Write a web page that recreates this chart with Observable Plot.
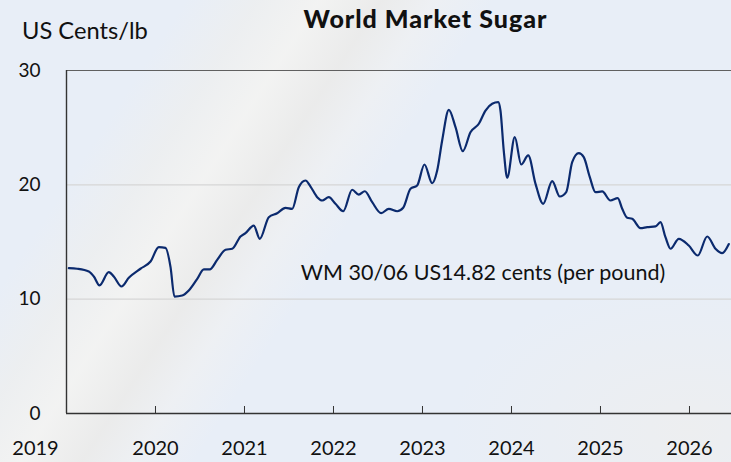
<!DOCTYPE html>
<html>
<head>
<meta charset="utf-8">
<script src="https://cdn.jsdelivr.net/npm/d3@7"></script>
<script src="https://cdn.jsdelivr.net/npm/@observablehq/plot@0.6"></script>
<style>
  html, body { margin: 0; padding: 0; }
  #wrap {
    position: relative; width: 731px; height: 462px; overflow: hidden;
    font-family: Lato, "Open Sans", sans-serif;
    background:
      linear-gradient(123deg, rgba(255,255,255,0) 0%, rgba(255,255,255,0) 18%, rgba(240,239,235,0.55) 25%, rgba(245,244,241,0.8) 31%, rgba(236,234,230,0.7) 37%, rgba(243,242,240,0.5) 42%, rgba(255,255,255,0) 48%),
      radial-gradient(ellipse 240px 150px at 690px 430px, rgba(238,238,238,0.8), rgba(238,238,238,0)),
      #e8eef7;
  }
  #title { position: absolute; left: 0; width: 851px; top: 6px; text-align: center; font-weight: 900; font-size: 25px; line-height: 1; letter-spacing: 1px; color: #111; }
  #ylab { position: absolute; left: 22px; top: 19px; font-size: 23.7px; line-height: 1; color: #111; }
  #chart { position: absolute; left: 0; top: 0; }
</style>
</head>
<body>
<div id="wrap">
  <div id="chart"></div>
  <div id="title">World Market Sugar</div>
  <div id="ylab">US Cents/lb</div>
</div>
<script>
// Decimal year positions of the traced points
const years = [
  2019.026, 2019.120, 2019.251, 2019.307, 2019.371, 2019.475, 2019.531, 2019.618, 2019.700, 2019.831,
  2019.944, 2020.037, 2020.112, 2020.169, 2020.213, 2020.300, 2020.374, 2020.469, 2020.543, 2020.610,
  2020.693, 2020.787, 2020.862, 2020.955, 2021.011, 2021.104, 2021.172, 2021.273, 2021.367, 2021.461,
  2021.536, 2021.610, 2021.685, 2021.742, 2021.817, 2021.873, 2021.947, 2022.022, 2022.109, 2022.210,
  2022.284, 2022.352, 2022.435, 2022.536, 2022.621, 2022.716, 2022.783, 2022.865, 2022.940, 2023.022,
  2023.109, 2023.165, 2023.221, 2023.296, 2023.371, 2023.453, 2023.539, 2023.633, 2023.708, 2023.783,
  2023.851, 2023.876, 2023.913, 2023.952, 2024.037, 2024.109, 2024.188, 2024.270, 2024.356, 2024.457,
  2024.543, 2024.615, 2024.682, 2024.756, 2024.812, 2024.880, 2024.944, 2025.019, 2025.112, 2025.194,
  2025.244, 2025.300, 2025.356, 2025.449, 2025.525, 2025.618, 2025.674, 2025.730, 2025.787, 2025.880,
  2025.992, 2026.093, 2026.199, 2026.292, 2026.367, 2026.442
];
// World market sugar price, US cents per pound
const prices = [
  12.71, 12.66, 12.42, 11.98, 11.20, 12.36, 11.98, 11.11, 11.87, 12.66,
  13.29, 14.55, 14.49, 12.80, 10.23, 10.32, 10.76, 11.78, 12.60, 12.60,
  13.44, 14.32, 14.41, 15.48, 15.77, 16.44, 15.28, 17.17, 17.52, 17.99,
  17.90, 19.79, 20.38, 19.85, 18.92, 18.63, 18.92, 18.34, 17.69, 19.57,
  19.15, 19.44, 18.48, 17.52, 17.90, 17.69, 17.99, 19.65, 19.94, 21.78,
  20.14, 21.25, 23.88, 26.56, 25.04, 22.94, 24.60, 25.34, 26.50, 27.09,
  27.23, 26.50, 23.00, 20.62, 24.17, 21.78, 22.57, 20.09, 18.34, 20.32,
  18.98, 19.36, 21.98, 22.77, 22.42, 20.67, 19.36, 19.42, 18.63, 18.83,
  17.90, 17.12, 17.03, 16.21, 16.30, 16.36, 16.73, 15.42, 14.41, 15.28,
  14.69, 13.82, 15.48, 14.41, 14.02, 14.82
];
const yearTicks = [2019, 2020, 2021, 2022, 2023, 2024, 2025, 2026];
const yTicks = [0, 10, 20, 30];
const gridValues = [10, 20];
const xDomain = [2019, 2026.472];
const yDomain = [0, 30];
const noteText = ["WM 30/06 US14.82 cents (per pound)"];
const noteX = [2023.68];
const noteY = [12.3];

const series = years.map((x, i) => ({x, y: prices[i]}));
const notes = noteText.map((t, i) => ({t, x: noteX[i], y: noteY[i]}));

const chart = Plot.plot({
  width: 731,
  height: 462,
  marginTop: 70,
  marginLeft: 66,
  marginRight: 0,
  marginBottom: 49,
  style: {background: "transparent", fontFamily: "Lato, 'Open Sans', sans-serif", color: "#111"},
  x: {domain: xDomain, axis: null},
  y: {domain: yDomain, axis: null},
  marks: [
    Plot.ruleY(gridValues, {stroke: "#d6d6d6", strokeWidth: 1.3}),
    Plot.ruleY([yDomain[1]], {stroke: "#606060", strokeWidth: 1.2}),
    Plot.ruleY([yDomain[0]], {stroke: "#333", strokeWidth: 1.4}),
    Plot.ruleX([xDomain[0]], {stroke: "#333", strokeWidth: 1.4}),
    Plot.ruleX(yearTicks.slice(1), {x: d => d, stroke: "#333", strokeWidth: 1, insetTop: 336}),
    Plot.axisY(yTicks, {tickSize: 0, tickPadding: 26, fontSize: 19, fill: "#111", label: null}),
    Plot.text(yearTicks.slice(0, 1), {x: d => d, frameAnchor: "bottom", dy: 41, dx: -31, text: d => String(d), fontSize: 20, fill: "#111"}),
    Plot.text(yearTicks.slice(1), {x: d => d, frameAnchor: "bottom", dy: 41, text: d => String(d), fontSize: 20, fill: "#111"}),
    Plot.line(series, {x: "x", y: "y", stroke: "#0b2a6e", strokeWidth: 2.2, curve: "monotone-x"}),
    Plot.text(notes, {x: "x", y: "y", text: "t", fontSize: 21.5, fill: "#111"})
  ]
});
document.getElementById("chart").appendChild(chart);
</script>
</body>
</html>
